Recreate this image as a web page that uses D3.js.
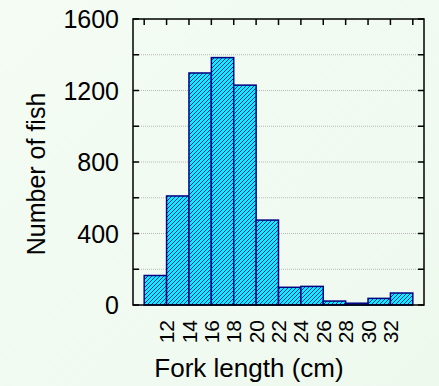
<!DOCTYPE html>
<html>
<head>
<meta charset="utf-8">
<script src="https://cdn.jsdelivr.net/npm/d3@7"></script>
<style>
  html, body { margin: 0; padding: 0; background: #f2fbf2; }
  svg { display: block; font-family: "Liberation Sans", Arial, sans-serif; }
</style>
</head>
<body>
<script>
'use strict';

// Fork length bins (cm), 2 cm wide, and fish counts
var binStarts = [10, 12, 14, 16, 18, 20, 22, 24, 26, 28, 30, 32];
var counts = [165, 610, 1298, 1384, 1230, 475, 99, 104, 22, 10, 37, 67];
var xTicks = [12, 14, 16, 18, 20, 22, 24, 26, 28, 30, 32];
var yLabels = [0, 400, 800, 1200, 1600];
var yMinor = [0, 200, 400, 600, 800, 1000, 1200, 1400, 1600];
var binWidth = 2;

var width = 439;
var height = 386;
var margin = { left: 133, right: 15, top: 19, bottom: 81 };

var svg = d3.select('body').append('svg')
    .attr('width', width)
    .attr('height', height);

var defs = svg.append('defs');

var grad = defs.append('linearGradient')
    .attr('id', 'bg')
    .attr('x1', 0).attr('y1', 0).attr('x2', 1).attr('y2', 1);
grad.append('stop').attr('offset', '0%').attr('stop-color', '#f4fcf4');
grad.append('stop').attr('offset', '100%').attr('stop-color', '#eef9ee');

defs.append('pattern')
    .attr('id', 'hatch')
    .attr('patternUnits', 'userSpaceOnUse')
    .attr('width', 4)
    .attr('height', 4)
    .call(function (p) {
        p.append('rect').attr('width', 4).attr('height', 4).attr('fill', '#0ef0ff');
        p.append('path')
            .attr('d', 'M-1,1 l2,-2 M0,4 l4,-4 M3,5 l2,-2')
            .attr('stroke', '#0000a0')
            .attr('stroke-width', 0.85);
    });

svg.append('rect')
    .attr('width', width)
    .attr('height', height)
    .attr('fill', 'url(#bg)');

var x = d3.scaleLinear()
    .domain([9, 35])
    .range([margin.left, width - margin.right]);

var y = d3.scaleLinear()
    .domain([0, 1600])
    .range([height - margin.bottom, margin.top]);

// dotted grid
svg.append('g')
    .selectAll('line')
    .data(yMinor.slice(1, -1))
    .enter().append('line')
    .attr('x1', x(9))
    .attr('x2', x(35))
    .attr('y1', function (d) { return y(d); })
    .attr('y2', function (d) { return y(d); })
    .attr('stroke', '#b8b8b8')
    .attr('stroke-width', 1)
    .attr('stroke-dasharray', '1,1');

// bars
svg.append('g')
    .selectAll('rect')
    .data(counts)
    .enter().append('rect')
    .attr('x', function (d, i) { return x(binStarts[i]); })
    .attr('width', function (d, i) { return x(binStarts[i] + binWidth) - x(binStarts[i]); })
    .attr('y', function (d) { return y(d); })
    .attr('height', function (d) { return y(0) - y(d); })
    .attr('fill', 'url(#hatch)')
    .attr('stroke', '#000080')
    .attr('stroke-width', 1.5);

// frame with inward ticks
var frame = svg.append('g').attr('stroke', '#000').attr('fill', 'none');

frame.append('rect')
    .attr('x', x(9))
    .attr('y', y(1600))
    .attr('width', x(35) - x(9))
    .attr('height', y(0) - y(1600))
    .attr('stroke-width', 1.5);

var boundaries = binStarts.concat([binStarts[binStarts.length - 1] + binWidth]);

frame.selectAll('line.top')
    .data(boundaries)
    .enter().append('line')
    .attr('class', 'top')
    .attr('x1', function (d) { return x(d); })
    .attr('x2', function (d) { return x(d); })
    .attr('y1', y(1600))
    .attr('y2', y(1600) + 6)
    .attr('stroke-width', 1.5);

frame.selectAll('line.left')
    .data(yMinor)
    .enter().append('line')
    .attr('class', 'left')
    .attr('x1', x(9))
    .attr('x2', x(9) + 6)
    .attr('y1', function (d) { return y(d); })
    .attr('y2', function (d) { return y(d); })
    .attr('stroke-width', 1.5);

frame.selectAll('line.right')
    .data(yMinor)
    .enter().append('line')
    .attr('class', 'right')
    .attr('x1', x(35))
    .attr('x2', x(35) - 6)
    .attr('y1', function (d) { return y(d); })
    .attr('y2', function (d) { return y(d); })
    .attr('stroke-width', 1.5);

// y tick labels
svg.append('g')
    .selectAll('text')
    .data(yLabels)
    .enter().append('text')
    .attr('x', x(9) - 14)
    .attr('y', function (d) { return y(d); })
    .attr('dy', '0.36em')
    .attr('text-anchor', 'end')
    .attr('font-size', 25)
    .text(function (d) { return d; });

// x tick labels, rotated
svg.append('g')
    .selectAll('text')
    .data(xTicks)
    .enter().append('text')
    .attr('transform', function (d) {
        return 'translate(' + x(d) + ',' + (y(0) + 15) + ') rotate(-90)';
    })
    .attr('dy', '0.36em')
    .attr('text-anchor', 'end')
    .attr('font-size', 21)
    .text(function (d) { return d; });

// axis titles
svg.append('text')
    .attr('transform', 'translate(45,174) rotate(-90)')
    .attr('text-anchor', 'middle')
    .attr('font-size', 25)
    .text('Number of fish');

svg.append('text')
    .attr('x', 249)
    .attr('y', 377)
    .attr('text-anchor', 'middle')
    .attr('font-size', 26)
    .text('Fork length (cm)');
</script>
</body>
</html>
